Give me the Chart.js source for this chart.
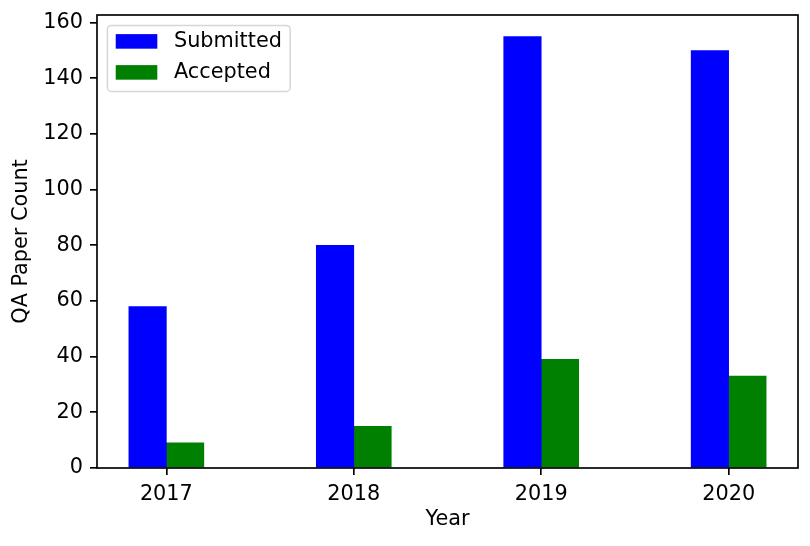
<!DOCTYPE html>
<html>
<head>
<meta charset="utf-8">
<script src="https://cdn.jsdelivr.net/npm/chart.js@4"></script>
<style>
    body { margin: 0; background: #fff; }
    #wrap { width: 810px; height: 546px; position: relative; }
</style>
</head>
<body>
<div id="wrap"><canvas id="chart"></canvas></div>
<script>
const years = ['2017', '2018', '2019', '2020'];
const submitted = [58, 80, 155, 150];
const accepted = [9, 15, 39, 33];
const yTicks = [0, 20, 40, 60, 80, 100, 120, 140, 160];

const FONT = 20.8;
Chart.defaults.font.family = '"DejaVu Sans", sans-serif';
Chart.defaults.font.size = FONT;
Chart.defaults.color = '#000';

// bars sit 0.1 left / right of each year position
const toPoints = (vals, shift) => vals.map((v, i) => ({ x: i + shift, y: v }));

// matplotlib-like box around the plot area
const framePlugin = {
    id: 'frame',
    afterDatasetsDraw: (chart) => {
        const { ctx, chartArea: a } = chart;
        ctx.save();
        ctx.strokeStyle = '#000';
        ctx.lineWidth = 1.67;
        ctx.strokeRect(a.left, a.top, a.right - a.left, a.bottom - a.top);
        ctx.restore();
    }
};

// legend drawn inside the upper-left corner of the plot area
const legendPlugin = {
    id: 'innerLegend',
    afterDraw: (chart) => {
        const { ctx, chartArea: a } = chart;
        const sets = chart.data.datasets;
        const em = FONT;
        ctx.save();
        ctx.font = `${em}px "DejaVu Sans"`;
        const textW = Math.max(...sets.map(s => ctx.measureText(s.label).width));
        const pad = 0.4 * em, handleW = 2 * em, handleH = 0.7 * em, gap = 0.8 * em;
        const firstRow = 16, rowStep = 31, lastRow = 19;
        const x = a.left + 0.5 * em, y = a.top + 0.5 * em;
        const w = pad * 2 + handleW + gap + textW;
        const h = firstRow + rowStep * (sets.length - 1) + lastRow;
        ctx.beginPath();
        ctx.roundRect(x, y, w, h, 4);
        ctx.fillStyle = 'rgba(255,255,255,0.8)';
        ctx.fill();
        ctx.strokeStyle = '#d6d6d6';
        ctx.lineWidth = 1.5;
        ctx.stroke();
        sets.forEach((s, i) => {
            const cy = y + firstRow + i * rowStep;
            ctx.fillStyle = s.backgroundColor;
            ctx.fillRect(x + pad, cy - handleH / 2, handleW, handleH);
            ctx.fillStyle = '#000';
            ctx.textBaseline = 'middle';
            ctx.fillText(s.label, x + pad + handleW + gap, cy);
        });
        ctx.restore();
    }
};

new Chart(document.getElementById('chart'), {
    type: 'bar',
    data: {
        datasets: [
            { label: 'Submitted', data: toPoints(submitted, -0.1), backgroundColor: '#0000ff' },
            { label: 'Accepted', data: toPoints(accepted, 0.1), backgroundColor: '#008000' }
        ]
    },
    options: {
        responsive: true,
        maintainAspectRatio: false,
        animation: false,
        layout: { padding: { top: 15, right: 12, left: 0, bottom: 0 } },
        datasets: { bar: { grouped: false, barPercentage: 1, categoryPercentage: 1 } },
        plugins: { legend: { display: false }, tooltip: { enabled: false } },
        scales: {
            x: {
                type: 'linear',
                offset: false,
                min: -0.37,
                max: 3.37,
                afterBuildTicks: (s) => { s.ticks = years.map((_, i) => ({ value: i })); },
                afterFit: (s) => { s.height = 78; s.paddingLeft = 0; s.paddingRight = 0; },
                ticks: { autoSkip: false, maxRotation: 0, padding: 7, callback: (v) => years[v] },
                grid: { offset: false, drawOnChartArea: false, tickLength: 7, color: '#000', lineWidth: 1.67 },
                border: { display: false },
                title: { display: true, text: 'Year', padding: { top: 0, bottom: 14 } }
            },
            y: {
                min: 0,
                max: 162.75,
                afterBuildTicks: (s) => { s.ticks = yTicks.map(v => ({ value: v })); },
                afterFit: (s) => { s.width = 97; s.paddingTop = 0; s.paddingBottom = 0; },
                ticks: { padding: 7 },
                grid: { drawOnChartArea: false, tickLength: 7, color: '#000', lineWidth: 1.67 },
                border: { display: false },
                title: { display: true, text: 'QA Paper Count', padding: { top: 9, bottom: 0 } }
            }
        }
    },
    plugins: [framePlugin, legendPlugin]
});
</script>
</body>
</html>
